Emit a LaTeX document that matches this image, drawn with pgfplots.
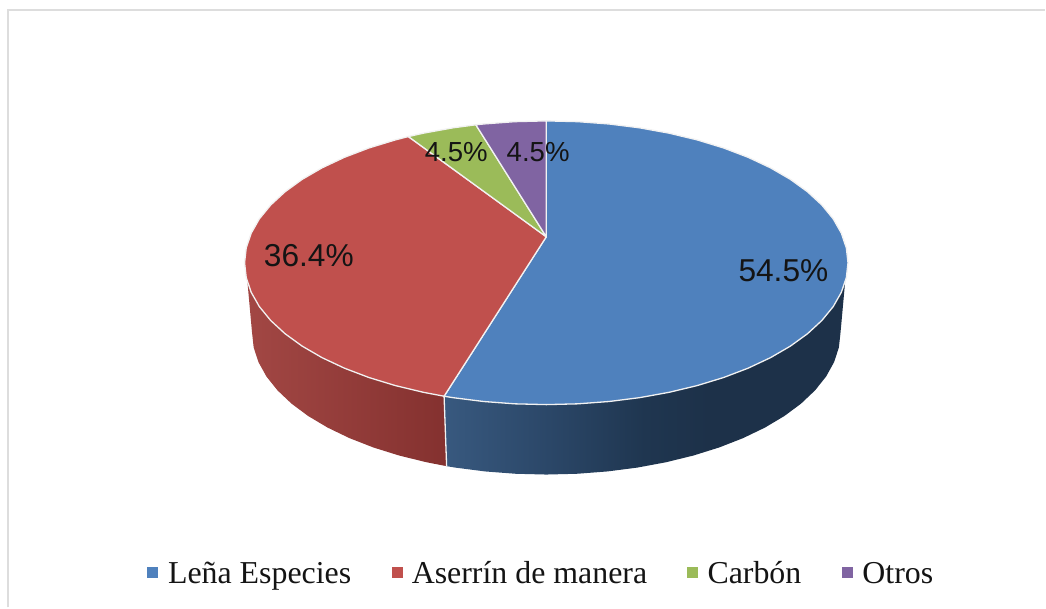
\documentclass[border=0pt]{standalone}
\usepackage{pgfplots}
\pgfplotsset{compat=1.18}
\usepackage{pgfplotstable}
\usepackage{fontspec}
\setmainfont{Liberation Serif}
\newfontfamily\lab{Liberation Sans}
\definecolor{cb}{HTML}{4F81BD}
\definecolor{cr}{HTML}{C0504D}
\definecolor{cg}{HTML}{9BBB59}
\definecolor{cp}{HTML}{8064A2}
\definecolor{rim}{HTML}{F2F2F2}
\definecolor{frame}{HTML}{DDDDDD}
\definecolor{cbA}{HTML}{38597F}
\definecolor{cbB}{HTML}{2B4768}
\definecolor{cbC}{HTML}{1F3650}
\definecolor{cbD}{HTML}{1D3149}
\definecolor{crA}{HTML}{A24744}
\definecolor{crB}{HTML}{84312F}
\pgfdeclarehorizontalshading{blueside}{100bp}{color(0bp)=(cbA);color(25bp)=(cbA);color(38bp)=(cbB);color(50bp)=(cbC);color(58bp)=(cbD);color(100bp)=(cbD)}
\pgfdeclarehorizontalshading{redside}{100bp}{color(0bp)=(crA);color(25bp)=(crA);color(75bp)=(crB);color(100bp)=(crB)}
% unit-ellipse outline of each piece; l=1 marks the lower rim of the disc
\pgfplotstableread{
c s l
0 -0.183 0
0 -1 0
.1045 -.9945 0
.2079 -.9781 0
.3090 -.9511 0
.4067 -.9135 0
.5 -.8660 0
.5878 -.8090 0
.6691 -.7431 0
.7431 -.6691 0
.8090 -.5878 0
.8660 -.5 0
.9135 -.4067 0
.9511 -.3090 0
.9781 -.2079 0
.9945 -.1045 0
1 0 0
.9945 .1045 0
.9781 .2079 0
.9511 .3090 0
.9135 .4067 0
.8660 .5 0
.8090 .5878 0
.7431 .6691 0
.6691 .7431 0
.5878 .8090 0
.5 .8660 0
.4067 .9135 0
.3090 .9511 0
.2079 .9781 0
.1045 .9945 0
0 1 0
-.1045 .9945 0
-.2079 .9781 0
-.3090 .9511 0
-.3387 .9409 0
}\tblue
\pgfplotstableread{
c s l
0 -0.183 0
-.3387 .9409 0
-.4067 .9135 0
-.5 .8660 0
-.5878 .8090 0
-.6691 .7431 0
-.7431 .6691 0
-.8090 .5878 0
-.8660 .5 0
-.9135 .4067 0
-.9511 .3090 0
-.9781 .2079 0
-.9945 .1045 0
-1 0 0
-.9945 -.1045 0
-.9781 -.2079 0
-.9511 -.3090 0
-.9135 -.4067 0
-.8660 -.5 0
-.8090 -.5878 0
-.7431 -.6691 0
-.6691 -.7431 0
-.5878 -.8090 0
-.5 -.8660 0
-.4571 -.8894 0
}\tred
\pgfplotstableread{
c s l
0 -0.183 0
-.4571 -.8894 0
-.4067 -.9135 0
-.3090 -.9511 0
-.2334 -.9724 0
}\tgreen
\pgfplotstableread{
c s l
0 -0.183 0
-.2334 -.9724 0
-.2079 -.9781 0
-.1045 -.9945 0
0 -1 0
}\tpurple
\pgfplotstableread{
c s l
.9903 .1392 0
.9781 .2079 0
.9511 .3090 0
.9135 .4067 0
.8660 .5 0
.8090 .5878 0
.7431 .6691 0
.6691 .7431 0
.5878 .8090 0
.5 .8660 0
.4067 .9135 0
.3090 .9511 0
.2079 .9781 0
.1045 .9945 0
0 1 0
-.1045 .9945 0
-.2079 .9781 0
-.3090 .9511 0
-.3387 .9409 0
-.3387 .9409 1
-.3090 .9511 1
-.2079 .9781 1
-.1045 .9945 1
0 1 1
.1045 .9945 1
.2079 .9781 1
.3090 .9511 1
.4067 .9135 1
.5 .8660 1
.5878 .8090 1
.6691 .7431 1
.7431 .6691 1
.8090 .5878 1
.8660 .5 1
.9135 .4067 1
.9511 .3090 1
.9781 .2079 1
.9945 .1045 1
1 0 1
}\tblueside
\pgfplotstableread{
c s l
-.3387 .9409 0
-.4067 .9135 0
-.5 .8660 0
-.5878 .8090 0
-.6691 .7431 0
-.7431 .6691 0
-.8090 .5878 0
-.8660 .5 0
-.9135 .4067 0
-.9511 .3090 0
-.9781 .2079 0
-.9903 .1392 0
-1 0 1
-.9945 .1045 1
-.9781 .2079 1
-.9511 .3090 1
-.9135 .4067 1
-.8660 .5 1
-.8090 .5878 1
-.7431 .6691 1
-.6691 .7431 1
-.5878 .8090 1
-.5 .8660 1
-.4067 .9135 1
-.3387 .9409 1
}\tredside
\pgfplotstableread{
c s l
-.3387 .9409 0
-.3387 .9409 1
}\tseam
\newcommand{\px}{546.8+(302-7.5*\thisrow{l})*\thisrow{c}}
\newcommand{\py}{263+70*\thisrow{l}+142*\thisrow{s}}
\newcommand{\lb}[4]{\node[anchor=base west,inner sep=0pt,text=black!92] at (axis cs:#1,#2) {\fontsize{#3}{38}\selectfont #4};}
\pgfplotsset{piece/.style={line width=1.3pt,line join=round,draw=rim}}
\pgfplotsset{key/.style={only marks,mark=square*,mark size=5pt,mark options={draw=#1,fill=#1,line width=0.2pt}}}
\begin{document}
\begin{tikzpicture}
\begin{axis}[scale only axis,width=1046pt,height=608pt,xmin=0,xmax=1046,ymin=0,ymax=608,y dir=reverse,axis lines=none,clip=false]
\addplot[fill=white,draw=white,line width=0pt] coordinates {(0,0)(1046,0)(1046,608)(0,608)} --cycle;
\addplot[draw=frame,line width=2pt] coordinates {(8.5,608)(8.5,10.5)(1046,10.5)};
\addplot[draw=none,shading=blueside] table[x expr=\px,y expr=\py] {\tblueside} --cycle;
\addplot[draw=none,shading=redside] table[x expr=\px,y expr=\py] {\tredside} --cycle;
\addplot[draw=rim,line width=1.3pt] table[x expr=\px,y expr=\py] {\tseam};
\addplot[piece,fill=cb] table[x expr=\px,y expr=\py] {\tblue} --cycle;
\addplot[piece,fill=cr] table[x expr=\px,y expr=\py] {\tred} --cycle;
\addplot[piece,fill=cg] table[x expr=\px,y expr=\py] {\tgreen} --cycle;
\addplot[piece,fill=cp] table[x expr=\px,y expr=\py] {\tpurple} --cycle;
\addplot[key=cb] coordinates {(152.5,572.5)};
\addplot[key=cr] coordinates {(397,572.5)};
\addplot[key=cg] coordinates {(693,572.5)};
\addplot[key=cp] coordinates {(847.5,572.5)};
\lb{739}{282}{31.7}{\lab 54.5\%}
\lb{264}{267}{31.7}{\lab 36.4\%}
\lb{425}{162}{27.6}{\lab 4.5\%}
\lb{507}{162}{27.6}{\lab 4.5\%}
\lb{168}{584}{31.9}{Leña Especies}
\lb{412}{584}{31.9}{Aserrín de manera}
\lb{708}{584}{31.9}{Carbón}
\lb{863}{584}{31.9}{Otros}
\end{axis}
\end{tikzpicture}
\end{document}
